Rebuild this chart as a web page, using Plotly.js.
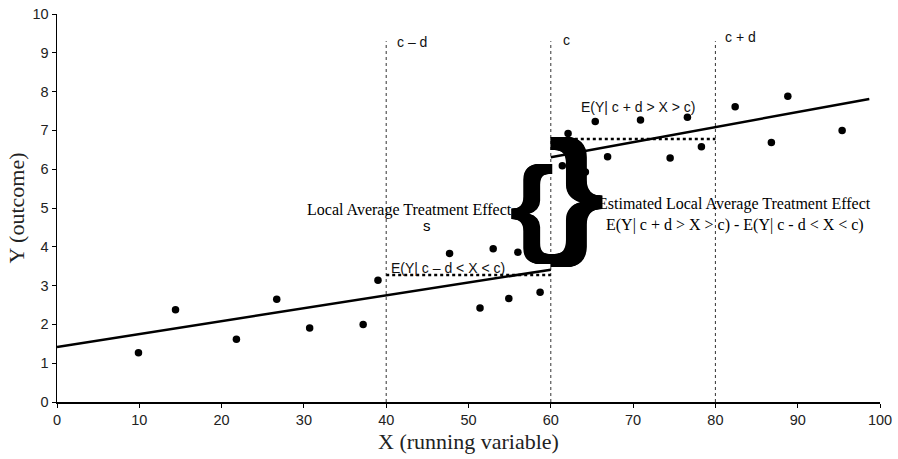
<!DOCTYPE html>
<html>
<head>
<meta charset="utf-8">
<script src="https://cdn.plot.ly/plotly-3.0.1.min.js"></script>
<style>html,body{margin:0;padding:0;background:#fff;}#chart{width:898px;height:459px;}</style>
</head>
<body>
<div id="chart"></div>
<script>
// Scatter observations
const xVals = [9.9, 14.4, 21.8, 26.7, 30.7, 37.2, 39.0, 47.7, 51.4, 53.0, 54.9, 56.0, 58.7,
               61.4, 62.1, 64.2, 65.4, 66.9, 70.9, 74.5, 76.6, 78.3, 82.4, 86.8, 88.8, 95.4];
const yVals = [1.27, 2.38, 1.62, 2.65, 1.91, 2.0, 3.14, 3.83, 2.42, 3.95, 2.67, 3.86, 2.83,
               6.09, 6.92, 5.93, 7.23, 6.32, 7.27, 6.29, 7.34, 6.58, 7.61, 6.69, 7.88, 7.0];
// Fitted regression lines (endpoints)
const leftFitX = [0, 60];
const leftFitY = [1.42, 3.41];
const rightFitX = [60, 98.7];
const rightFitY = [6.31, 7.81];
// Local means within bandwidth
const leftMeanX = [40, 60];
const leftMeanY = [3.27, 3.27];
const rightMeanX = [60, 80];
const rightMeanY = [6.78, 6.78];
// Cutoffs
const cutX = [40, 60, 80];
const cutLabels = ["c – d", "c", "c + d"];
const cutTop = 9.3;
// Tick labels
const xTicks = [0, 10, 20, 30, 40, 50, 60, 70, 80, 90, 100];
const yTicks = [0, 1, 2, 3, 4, 5, 6, 7, 8, 9, 10];

const traces = [];
cutX.forEach(function (c) {
  traces.push({x: [c, c], y: [0, cutTop], mode: 'lines', line: {color: '#333', width: 1, dash: 'dot'}, hoverinfo: 'skip', showlegend: false});
});
traces.push({x: leftMeanX, y: leftMeanY, mode: 'lines', line: {color: '#000', width: 2.5, dash: 'dot'}, showlegend: false});
traces.push({x: rightMeanX, y: rightMeanY, mode: 'lines', line: {color: '#000', width: 2.5, dash: 'dot'}, showlegend: false});
traces.push({x: leftFitX, y: leftFitY, mode: 'lines', line: {color: '#000', width: 2.5}, showlegend: false});
traces.push({x: rightFitX, y: rightFitY, mode: 'lines', line: {color: '#000', width: 2.5}, showlegend: false});
traces.push({x: xVals, y: yVals, mode: 'markers', marker: {color: '#000', size: 7.5}, showlegend: false});

const sans = 'Liberation Sans, Arial, sans-serif';
const serif = 'Liberation Serif, Times New Roman, serif';
const thick = '1px 0 0 #000, -1px 0 0 #000, 1.5px 0 0 #000, -1.5px 0 0 #000';

const annotations = [
  {x: 41.07, y: 9.28, text: cutLabels[0], xanchor: 'left', yanchor: 'middle'},
  {x: 61.2, y: 9.33, text: cutLabels[1], xanchor: 'left', yanchor: 'middle'},
  {x: 80.9, y: 9.41, text: cutLabels[2], xanchor: 'left', yanchor: 'middle'},
  {x: 70.6, y: 7.61, text: 'E(Y| c + d > X > c)', xanchor: 'center', yanchor: 'middle'},
  {x: 47.45, y: 3.45, text: 'E(Y| c – d < X < c)', xanchor: 'center', yanchor: 'middle'},
  {x: 42.8, y: 4.95, text: 'Local Average Treatment Effect', xanchor: 'center', yanchor: 'middle', font: {family: serif, size: 16, color: '#000'}},
  {x: 45.0, y: 4.56, text: 's', xanchor: 'center', yanchor: 'middle', font: {family: sans, size: 15, color: '#000'}},
  {x: 82.3, y: 5.10, text: 'Estimated Local Average Treatment Effect', xanchor: 'center', yanchor: 'middle', font: {family: serif, size: 16, color: '#000'}},
  {x: 82.4, y: 4.56, text: 'E(Y| c + d > X > c) - E(Y| c - d < X < c)', xanchor: 'center', yanchor: 'middle', font: {family: serif, size: 16, color: '#000'}},
  {x: 57.7, y: 5.1, text: '{', xanchor: 'center', yanchor: 'middle', font: {family: sans, size: 108, color: '#000', weight: 'bold', shadow: thick}},
  {x: 63.1, y: 5.48, text: '}', xanchor: 'center', yanchor: 'middle', font: {family: sans, size: 139, color: '#000', weight: 'bold', shadow: thick}}
].map(function (a) {
  return Object.assign({xref: 'x', yref: 'y', showarrow: false, font: {family: sans, size: 14, color: '#111'}}, a);
});

const layout = {
  width: 898, height: 459,
  margin: {l: 57, r: 18, t: 14, b: 57},
  paper_bgcolor: '#fff', plot_bgcolor: '#fff',
  showlegend: false,
  xaxis: {
    range: [0, 100], tickvals: xTicks, ticktext: xTicks.map(String),
    showline: true, linecolor: '#000', linewidth: 1.5, ticks: 'outside', ticklen: 4, tickcolor: '#000',
    showgrid: false, zeroline: false, tickfont: {family: sans, size: 14.5, color: '#222'},
    title: {text: 'X (running variable)', font: {family: serif, size: 22, color: '#222'}, standoff: 6}
  },
  yaxis: {
    range: [0, 10], tickvals: yTicks, ticktext: yTicks.map(String),
    showline: true, linecolor: '#000', linewidth: 1.5, ticks: 'outside', ticklen: 4, tickcolor: '#000',
    showgrid: false, zeroline: false, tickfont: {family: sans, size: 14.5, color: '#222'},
    title: {text: 'Y (outcome)', font: {family: serif, size: 22, color: '#222'}, standoff: 2}
  },
  annotations: annotations
};

Plotly.newPlot('chart', traces, layout, {displayModeBar: false, staticPlot: true});
</script>
</body>
</html>
